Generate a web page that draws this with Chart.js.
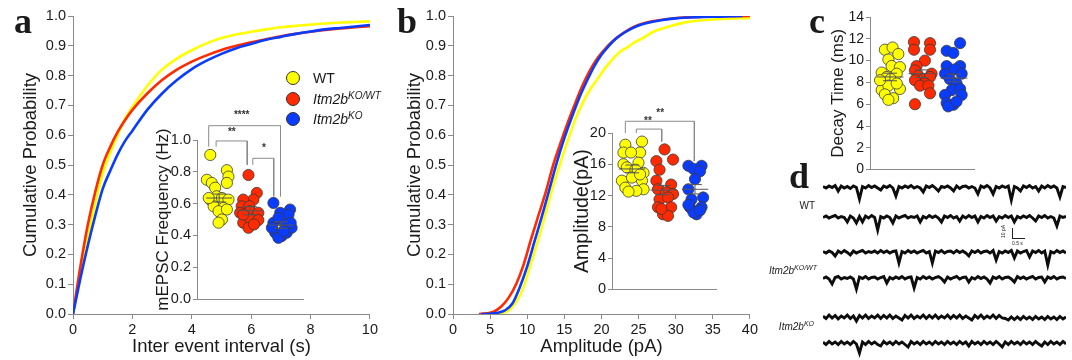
<!DOCTYPE html>
<html><head><meta charset="utf-8"><title>mEPSC figure</title>
<script src="https://cdn.jsdelivr.net/npm/chart.js@4.4.1/dist/chart.umd.min.js"></script>
<style>
html,body{margin:0;padding:0;background:#fff}
body{position:relative;width:1072px;height:360px;overflow:hidden;font-family:"Liberation Sans",Arial,sans-serif;color:#1a1a1a}
canvas{position:absolute}
.L{position:absolute;font-family:"Liberation Serif","Times New Roman",serif;font-weight:bold;font-size:36px;line-height:1}
.dot{position:absolute;width:12px;height:12px;border-radius:50%;border:1px solid #333}
.lt{position:absolute;font-size:14px;line-height:14px;white-space:nowrap}
.lt sup{font-size:10px;vertical-align:5px;line-height:0}
.tl{position:absolute;font-size:10px;line-height:10px;white-space:nowrap;text-align:right;width:60px}
.tl sup{font-size:7px;vertical-align:4px;line-height:0}
</style></head><body>

<canvas id="cA" width="380" height="360" style="left:0;top:0"></canvas>
<canvas id="cAi" width="170" height="210" style="left:140px;top:100px"></canvas>
<canvas id="cB" width="380" height="360" style="left:380px;top:0"></canvas>
<canvas id="cBi" width="165" height="200" style="left:560px;top:100px"></canvas>
<canvas id="cC" width="272" height="180" style="left:800px;top:0"></canvas>
<canvas id="t1" width="243" height="26" style="left:823px;top:180px"></canvas>
<canvas id="t2" width="243" height="26" style="left:823px;top:210px"></canvas>
<canvas id="t3" width="243" height="26" style="left:823px;top:245px"></canvas>
<canvas id="t4" width="243" height="26" style="left:823px;top:271px"></canvas>
<canvas id="t5" width="243" height="26" style="left:823px;top:310px"></canvas>
<canvas id="t6" width="243" height="26" style="left:823px;top:336px"></canvas>

<div class="L" style="left:14px;top:3px">a</div>
<div class="L" style="left:397px;top:3px">b</div>
<div class="L" style="left:809px;top:3px">c</div>
<div class="L" style="left:789px;top:158px">d</div>

<div class="dot" style="left:286px;top:71px;background:#ffff00"></div>
<div class="dot" style="left:286px;top:92px;background:#ff2a00"></div>
<div class="dot" style="left:286px;top:112px;background:#0a3cff"></div>
<div class="lt" style="left:313px;top:71px">WT</div>
<div class="lt" style="left:313px;top:92px"><i>Itm2b</i><sup><i>KO/WT</i></sup></div>
<div class="lt" style="left:313px;top:112px"><i>Itm2b</i><sup><i>KO</i></sup></div>

<div class="tl" style="left:755px;top:201px">WT</div>
<div class="tl" style="left:757px;top:266px"><i>Itm2b</i><sup><i>KO/WT</i></sup></div>
<div class="tl" style="left:754px;top:322px"><i>Itm2b</i><sup><i>KO</i></sup></div>

<div style="position:absolute;left:1012px;top:228px;width:12px;height:10px;border-left:1px solid #222;border-bottom:1px solid #222"></div>
<div style="position:absolute;left:1001px;font-size:5px;line-height:5px;transform:rotate(-90deg);transform-origin:left top;top:238px">10 pA</div>
<div style="position:absolute;left:1012px;top:241px;font-size:5px;line-height:5px">0.5 s</div>

<script>
// ---------- DATA ----------
// Panel a: cumulative probability of inter-event interval (s)
const ieiX   = [0,0.25,0.5,0.75,1,1.25,1.5,1.75,2,2.5,3,3.5,4,4.5,5,5.5,6,6.5,7,7.5,8,8.5,9,9.5,10];
const ieiWT  = [0,0.13,0.26,0.37,0.47,0.54,0.60,0.655,0.695,0.765,0.82,0.857,0.885,0.908,0.926,0.938,0.947,0.955,0.962,0.967,0.971,0.975,0.978,0.98,0.982];
const ieiHet = [0,0.16,0.30,0.41,0.50,0.56,0.61,0.65,0.685,0.74,0.785,0.82,0.847,0.868,0.886,0.9,0.912,0.922,0.932,0.94,0.947,0.953,0.958,0.962,0.966];
const ieiKO  = [0,0.12,0.23,0.33,0.42,0.48,0.535,0.58,0.615,0.685,0.74,0.785,0.822,0.85,0.873,0.892,0.906,0.92,0.93,0.94,0.948,0.955,0.96,0.965,0.97];

// Panel a inset: mEPSC frequency (Hz), jitter = horizontal offset within group
const freqWT       = [0.906,0.75,0.73,0.81,0.77,0.73,0.70,0.625,0.646,0.635,0.625,0.583,0.573,0.552,0.563,0.50,0.48,0.635];
const freqWTJit    = [-0.29,-0.40,-0.24,0.25,0.30,0.25,-0.13,-0.29,-0.08,0.09,0.30,-0.18,0.14,-0.02,0.25,0.09,-0.02,-0.34];
const freqHet      = [0.78,0.667,0.625,0.625,0.583,0.583,0.542,0.552,0.542,0.48,0.50,0.496,0.448,0.469,0.531];
const freqHetJit   = [-0.05,0.22,0.11,-0.22,-0.27,-0.02,-0.32,0.0,0.27,-0.22,0.02,0.27,-0.05,0.13,-0.22];
const freqKO       = [0.604,0.5625,0.542,0.531,0.479,0.51,0.469,0.417,0.396,0.417,0.448,0.385,0.427,0.448,0.479];
const freqKOJit    = [-0.24,0.30,-0.02,0.25,-0.24,-0.08,0.14,-0.18,0.03,0.19,0.35,-0.08,0.09,-0.29,0.32];
const freqMean     = [0.635,0.555,0.465];
const freqSem      = [0.025,0.026,0.02];

// Panel b: cumulative probability of amplitude (pA)
const ampXWT  = [5.5,6.5,7.5,8.5,9.5,10.5,11.5,12.5,13.5,14.5,15.5,16.5,17.5,18.5,19.5,20.5,21.5,22.5,23.5,24.5,25.5,27,29,31,33,35,37,40];
const ampWT   = [0,0.003,0.012,0.04,0.09,0.17,0.25,0.34,0.43,0.51,0.585,0.655,0.71,0.755,0.79,0.825,0.855,0.88,0.895,0.912,0.925,0.947,0.964,0.977,0.984,0.988,0.991,0.993];
const ampXHet = [3.5,4.5,5.5,6.5,7.5,8.5,9.5,10.5,11.5,12.5,13.5,14.5,15.5,16.5,17.5,18.5,19.5,20.5,21.5,22.5,23.5,24.5,25.5,27,29,31,34,37,40];
const ampHet  = [0,0.002,0.008,0.025,0.055,0.1,0.165,0.25,0.33,0.41,0.5,0.575,0.645,0.71,0.77,0.82,0.86,0.89,0.915,0.935,0.952,0.965,0.974,0.983,0.99,0.995,0.998,0.999,1.0];
const ampXKO  = [3.8,5,6,7,8,9,10,11,12,13,14,15,16,17,18,19,20,21,22,23,24,25,26,28,30,33,36,39];
const ampKO   = [0,0.001,0.004,0.012,0.035,0.09,0.16,0.245,0.33,0.42,0.51,0.59,0.66,0.725,0.78,0.83,0.87,0.9,0.925,0.943,0.957,0.968,0.976,0.986,0.992,0.996,0.998,1.0];

// Panel b inset: amplitude (pA)
const ampDotWT     = [18.5,18.9,17.5,17.5,17.5,16.0,16.2,14.9,15.6,15.3,13.9,13.9,13.0,12.8,12.6,12.5,14.3,14.7];
const ampDotWTJit  = [-0.22,0.31,-0.28,0.25,-0.04,-0.28,0.20,0.36,-0.17,0.10,-0.33,0.31,-0.22,0.36,0.13,-0.12,-0.01,0.25];
const ampDotHet    = [17.9,16.6,16.4,15.3,13.9,13.4,12.8,12.4,12.2,11.5,11.75,10.5,10.5,9.6,9.4,10.3];
const ampDotHetJit = [0.03,0.30,-0.23,-0.13,-0.23,0.24,-0.18,0.08,0.30,-0.13,0.14,-0.18,0.24,-0.02,0.14,-0.07];
const ampDotKO     = [15.8,15.8,15.4,15.1,14.1,12.8,11.5,11.75,10.5,10.5,9.6,9.85,10.8,10.1];
const ampDotKOJit  = [-0.21,0.21,-0.05,0.16,0.0,-0.21,-0.11,0.26,-0.16,0.21,0.05,-0.05,-0.21,0.16];
const ampMean      = [15.4,12.7,12.8];
const ampSem       = [0.5,0.6,0.6];

// Panel c: decay time (ms)
const decayWT     = [11.0,11.2,10.6,10.1,9.5,9.4,8.9,8.8,8.5,8.3,7.3,7.4,7.7,6.9,6.55,6.4,7.9,8.2];
const decayWTJit  = [-0.16,0.08,0.26,-0.05,0.05,0.31,-0.26,0.21,-0.10,0.02,-0.26,0.31,-0.05,-0.16,0.10,-0.05,0.21,-0.31];
const decayHet    = [11.7,11.0,11.6,11.0,10.0,9.5,9.1,8.8,8.6,8.3,8.5,8.2,7.9,7.7,7.7,7.0,6.0];
const decayHetJit = [-0.25,-0.25,0.25,0.25,0.09,-0.17,-0.22,0.30,-0.11,0.04,0.25,-0.22,0.09,-0.06,0.20,0.25,-0.22];
const decayKO     = [11.6,10.9,10.7,9.5,9.5,9.2,8.8,8.8,8.3,7.9,7.3,7.4,6.85,6.85,6.1,5.95,5.8,6.25];
const decayKOJit  = [0.19,-0.23,-0.02,-0.23,0.19,0.03,-0.28,0.24,-0.13,0.08,-0.07,0.19,-0.28,0.24,-0.23,-0.02,-0.18,0.08];
const decayMean   = [8.5,8.8,8.4];
const decaySem    = [0.35,0.35,0.35];

// Panel d: example traces (pA, relative to baseline)
const traceWT1  = [0.5,-1,1,-0.5,1.5,-4,1,-1,0.5,-1.5,1,-0.5,-12,0.5,-1,1.5,-0.5,1,-1,-3,1,-0.5,1.5,-1,-9,0.5,-1,1,-0.5,1.5,-1,0.5,-1,-5,1,-0.5,1.5,-1,-4,0.5,-0.5,1,-1,-4,1,-1.5,0.5,1,-1,0.5,-1,-7,1,-0.5,1.5,-1,-7,0.5,-1,1,-0.5,1,-13,0.5,-1,-4,1,-0.5,1.5,-1,0.5,-4,1,-1,1.5,-0.5,1,-1,-10,0.5,-0.5];
const traceWT2  = [-0.5,1,-1,0.5,1.5,-1,0.5,-0.5,-5,1,-1,-6,0.5,-5,1,-1,1.5,-0.5,-13,0.5,-1,1,-0.5,-6,1,-1,0.5,1.5,-1,0.5,-0.5,1,-5,0.5,-1,1.5,-0.5,1,-1,-5,1,-0.5,1.5,-1,0.5,-4,1,-1,1.5,-0.5,1,-5,0.5,-1,1.5,-0.5,1,-4,0.5,-1,1.5,-0.5,1,-5,0.5,-1,1,-0.5,1.5,-1,-4,1,-0.5,1.5,-1,0.5,-1,-9,1,-0.5,0.5];
const traceHet1 = [0.5,-1,1,-0.5,-4,1,-1,1.5,-0.5,-3,1,-1,0.5,1.5,-1,0.5,-0.5,1,-1,1.5,-0.5,1,-1,0.5,1,-11,0.5,-1,1.5,-0.5,1,-1,0.5,1.5,-1,0.5,-11,1,-0.5,1.5,-1,0.5,1,-1,1.5,-0.5,1,-1,-4,1,-0.5,1.5,-1,0.5,1,-1,1.5,-8,0.5,-1,1,-0.5,1.5,-6,1,-1,0.5,1.5,-5,1,-0.5,1.5,-1,1,-13,0.5,-1,1.5,-0.5,1,-1];
const traceHet2 = [-0.5,1,-1,-6,0.5,1.5,-1,0.5,-0.5,1,-1,-11,1,-0.5,1.5,-1,0.5,1,-1,0.5,1.5,-5,0.5,-1,1,-0.5,1.5,-1,0.5,1,-10,0.5,-1,1.5,-0.5,1,-1,0.5,1.5,-0.5,-4,1,-1,0.5,1.5,-1,0.5,1,-4,0.5,-1,1.5,-0.5,1,-1,-5,1,-0.5,1.5,-1,0.5,1,-1,-4,1.5,-0.5,1,-1,0.5,1.5,-1,0.5,1,-4,1,-0.5,1.5,-1,0.5,1,-0.5];
const traceKO1  = [1,-1.5,2,-1,1.5,-2,1,-1,2,-1.5,1,-4,1.5,-1,2,-1.5,1,-1,2,-1.5,1.5,-1,2,-1.5,1,-1,-3,1.5,-1,2,-1.5,1,-1,2,-1.5,1.5,-1,2,-1.5,1,-1,2,-1.5,1.5,-1,2,-1.5,1,-1,-3,1.5,-1,2,-1.5,1,-1,2,-1.5,1.5,-1,-1.5,-3,0,-2.5,0,-2.5,0.5,-2,0,-2.5,0.5,-2,0,-2.5,0.5,-2,0,-2.5,0.5,-2,0];
const traceKO2  = [1,-1.5,1.5,-1,1,-1.5,1.5,-1,1,-1.5,1.5,-1,-10,1,-1.5,1.5,-1,1,-1.5,-3,1.5,-1,1,-1.5,1.5,-1,1,-1.5,-4,1.5,-1,1,-1.5,1.5,-1,1,-1.5,1.5,-1,1,-1.5,1.5,-1,1,-1.5,1.5,-1,1,-3,1.5,-1,1,-1.5,1.5,-1,1,-1.5,1.5,-1,-4,1,-1.5,1.5,-1,1,-1.5,1.5,-1,1,-1.5,1.5,-1,-3,1,-1.5,1.5,-1,1,-1.5,1.5,-1];

// Significance annotations: [x, y, text]
const sigA = [[0.73,1.125,'****'],[0.41,1.02,'**'],[1.45,0.915,'*']];
const sigB = [[0.89,21.9,'**'],[0.5,20.9,'**']];

// ---------- STYLE ----------
const YEL='#ffff00', RED='#ff2a00', BLU='#0a3cff', AX='#8a8a8a', TX='#1a1a1a', OUT='#3a3a3a', MEAN='#555';
Chart.defaults.font.family='"Liberation Sans", Arial, sans-serif';
Chart.defaults.color=TX;
Chart.defaults.animation=false;
Chart.defaults.responsive=false;
Chart.defaults.plugins.legend.display=false;
Chart.defaults.plugins.tooltip.enabled=false;

const sigPlugin={id:'sig',afterDatasetsDraw(chart,args,opts){
  if(!opts||!opts.items)return;const c=chart.ctx;c.save();c.fillStyle='#333';
  c.font='bold 10px "Liberation Sans", Arial';c.textAlign='center';c.textBaseline='bottom';
  for(const it of opts.items){c.fillText(it[2],chart.scales.x.getPixelForValue(it[0]),chart.scales.y.getPixelForValue(it[1]));}
  c.restore();}};

function yAx(o){return{type:'linear',min:o.min,max:o.max,afterFit:s=>{s.width=o.w;},
  ticks:{stepSize:o.step,autoSkip:false,font:{size:o.fs},padding:2,color:TX,callback:v=>Number(v).toFixed(o.dec)},
  grid:{display:true,drawOnChartArea:false,drawTicks:true,tickLength:o.tl||5,color:AX},
  border:{display:true,color:AX,width:1},
  title:{display:true,text:o.title,font:{size:o.tfs},color:TX,padding:{top:o.tp,bottom:0}}};}
function xMain(o){return{type:'linear',min:o.min,max:o.max,afterFit:s=>{s.height=o.h;},
  ticks:{stepSize:o.step,autoSkip:false,font:{size:14.5},padding:2,maxRotation:0,color:TX},
  grid:{display:true,drawOnChartArea:false,drawTicks:true,tickLength:5,color:AX},
  border:{display:true,color:AX,width:1},
  title:{display:true,text:o.title,font:{size:18.5},color:TX,padding:{top:0,bottom:o.tp}}};}
function xIn(min,max,h){return{type:'linear',min:min,max:max,afterFit:s=>{s.height=h;},
  ticks:{display:false},grid:{display:false},border:{display:true,color:AX,width:1}};}

const xy=(xs,ys)=>xs.map((x,i)=>({x:x,y:ys[i]}));
const line=(xs,ys,col)=>({data:xy(xs,ys),showLine:true,pointRadius:0,borderColor:col,borderWidth:2.6,tension:0.3,cubicInterpolationMode:'monotone'});

function dots(g,vals,jit,col){return{data:vals.map((v,i)=>({x:g+jit[i],y:v})),backgroundColor:col,borderColor:OUT,borderWidth:0.8,pointRadius:5.6,order:2};}
function meanSets(means,sems){const out=[];means.forEach((m,g)=>{const s=sems[g];
  const seg=(a,b)=>({data:[a,b],showLine:true,pointRadius:0,borderColor:MEAN,borderWidth:1,order:0});
  out.push(seg({x:g-0.42,y:m},{x:g+0.42,y:m}));
  out.push(seg({x:g-0.22,y:m+s},{x:g+0.22,y:m+s}));
  out.push(seg({x:g-0.22,y:m-s},{x:g+0.22,y:m-s}));
  out.push(seg({x:g,y:m-s},{x:g,y:m+s}));});return out;}
function bracket(pts){return{data:pts.map(p=>({x:p[0],y:p[1]})),showLine:true,pointRadius:0,borderColor:'#8a8a8a',borderWidth:1,tension:0,clip:false,order:3};}

// ---------- PANEL a ----------
new Chart(document.getElementById('cA'),{type:'scatter',
  data:{datasets:[line(ieiX,ieiKO,BLU),line(ieiX,ieiHet,RED),line(ieiX,ieiWT,YEL)]},
  options:{layout:{padding:{top:16,right:8,left:0,bottom:0}},
    scales:{x:xMain({min:0,max:10,step:2,h:46,title:'Inter event interval (s)',tp:2}),
            y:yAx({min:0,max:1,step:0.1,dec:1,w:73,fs:14.5,title:'Cumulative Probability',tfs:18.5,tp:20})}}});

new Chart(document.getElementById('cAi'),{type:'scatter',
  data:{datasets:[dots(0,freqWT,freqWTJit,YEL),dots(1,freqHet,freqHetJit,RED),dots(2,freqKO,freqKOJit,BLU)]
    .concat(meanSets(freqMean,freqSem))
    .concat([bracket([[-0.34,0.958],[-0.34,1.09],[1.99,1.09],[1.99,0.646]]),
             bracket([[-0.10,0.958],[-0.10,0.994],[0.91,0.994],[0.91,0.844]]),
             bracket([[1.09,0.844],[1.09,0.885],[1.77,0.885],[1.77,0.646]])])},
  options:{layout:{padding:{top:40,right:7,left:0,bottom:0}},
    plugins:{sig:{items:sigA}},
    scales:{x:xIn(-0.72,2.72,11),
            y:yAx({min:0,max:1,step:0.2,dec:1,w:57,fs:14.5,title:'mEPSC Frequency (Hz)',tfs:17,tp:13,tl:4})}},
  plugins:[sigPlugin]});

// ---------- PANEL b ----------
new Chart(document.getElementById('cB'),{type:'scatter',
  data:{datasets:[line(ampXKO,ampKO,BLU),line(ampXHet,ampHet,RED),line(ampXWT,ampWT,YEL)]},
  options:{layout:{padding:{top:16,right:9,left:0,bottom:0}},
    scales:{x:xMain({min:0,max:40,step:5,h:46,title:'Amplitude (pA)',tp:2}),
            y:yAx({min:0,max:1,step:0.1,dec:1,w:73,fs:14.5,title:'Cumulative Probability',tfs:18.5,tp:24})}}});

new Chart(document.getElementById('cBi'),{type:'scatter',
  data:{datasets:[dots(0,ampDotWT,ampDotWTJit,YEL),dots(1,ampDotHet,ampDotHetJit,RED),dots(2,ampDotKO,ampDotKOJit,BLU)]
    .concat(meanSets(ampMean,ampSem))
    .concat([bracket([[-0.22,20.0],[-0.22,21.5],[1.98,21.5],[1.98,16.4]]),
             bracket([[0.13,20.0],[0.13,20.5],[0.94,20.5],[0.94,18.9]])])},
  options:{layout:{padding:{top:33,right:9,left:0,bottom:0}},
    plugins:{sig:{items:sigB}},
    scales:{x:xIn(-0.645,2.67,9),
            y:yAx({min:0,max:20,step:4,dec:0,w:52,fs:14.5,title:'Amplitude(pA)',tfs:19.5,tp:11,tl:4})}},
  plugins:[sigPlugin]});

// ---------- PANEL c ----------
new Chart(document.getElementById('cC'),{type:'scatter',
  data:{datasets:[dots(0,decayWT,decayWTJit,YEL),dots(1,decayHet,decayHetJit,RED),dots(2,decayKO,decayKOJit,BLU)]
    .concat(meanSets(decayMean,decaySem))},
  options:{layout:{padding:{top:17,right:98,left:0,bottom:0}},
    scales:{x:xIn(-0.625,2.625,7),
            y:yAx({min:0,max:14,step:2,dec:0,w:70,fs:14,title:'Decay Time (ms)',tfs:17,tp:28,tl:4})}}});

// ---------- PANEL d ----------
function trace(id,vals){new Chart(document.getElementById(id),{type:'line',
  data:{labels:vals.map((v,i)=>i),datasets:[{data:vals,borderColor:'#0d0d0d',borderWidth:2.9,pointRadius:0,tension:0,borderJoinStyle:'miter'}]},
  options:{layout:{padding:0},scales:{x:{display:false},y:{display:false,min:-19,max:7}}}});}
trace('t1',traceWT1);trace('t2',traceWT2);trace('t3',traceHet1);
trace('t4',traceHet2);trace('t5',traceKO1);trace('t6',traceKO2);
</script>
</body></html>
